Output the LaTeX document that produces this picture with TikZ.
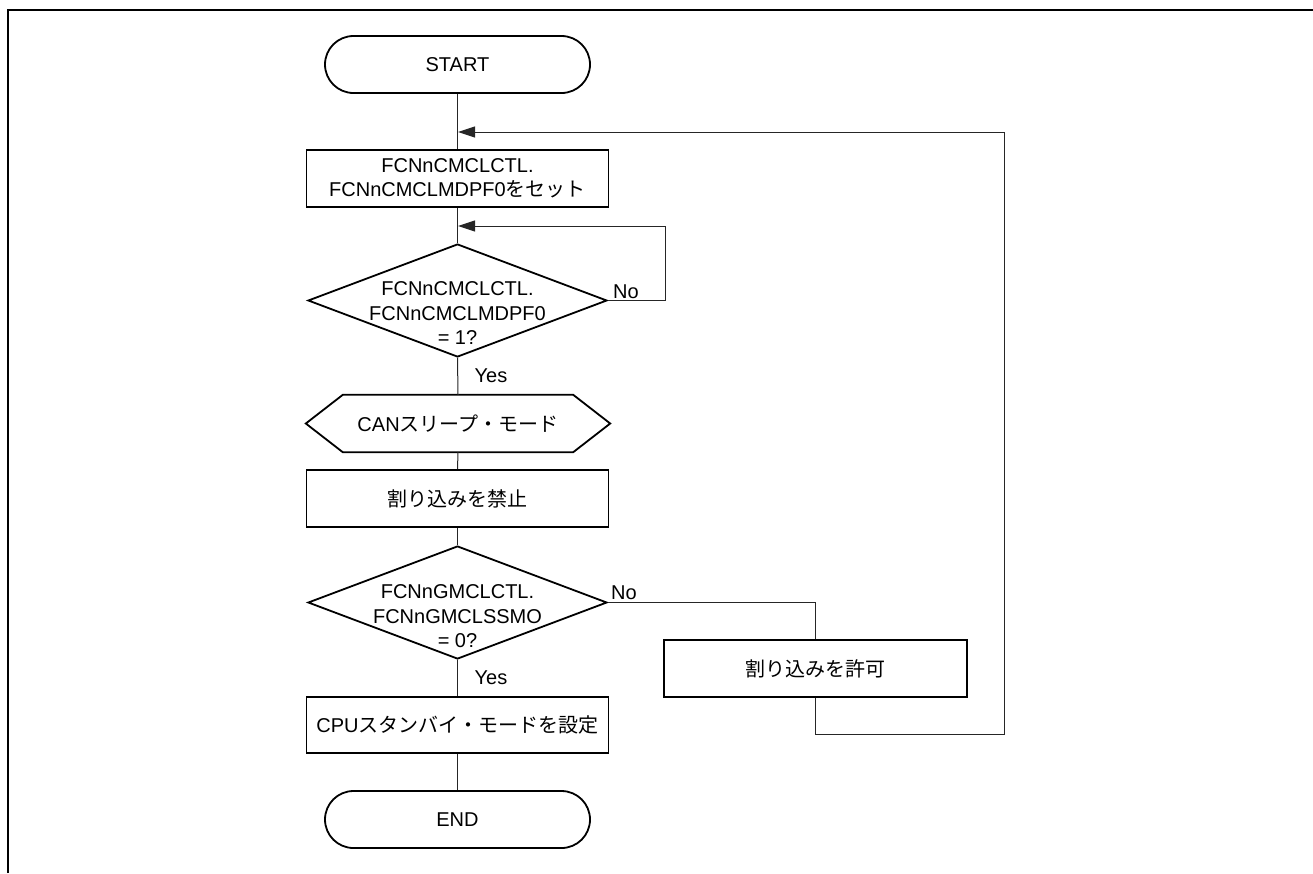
\documentclass[tikz,border=0pt]{standalone}
\usepackage{fontspec}
\setmainfont{Liberation Sans}
\newfontfamily\jp{Noto Sans CJK JP}
\usetikzlibrary{shapes.geometric,arrows.meta,calc}
\begin{document}
\begin{tikzpicture}[x=1pt,y=-1pt,
  every node/.style={font=\fontsize{20}{24.5}\selectfont, inner sep=0pt, align=center},
  term/.style={draw=black, line width=1.8pt, rectangle, rounded corners=28.5pt, minimum width=265pt, minimum height=57pt},
  proc/.style={draw=black, line width=1.8pt, rectangle, minimum width=302pt, minimum height=57pt},
  dec/.style={draw=black, line width=1.8pt, diamond, minimum width=299pt, minimum height=113pt},
  hexa/.style={rectangle, minimum width=304pt, minimum height=57pt},
  shapeline/.style={draw=black, line width=1.8pt},
  flow/.style={draw=black!85, line width=1pt},
  arr/.style={flow, -{Triangle[length=17pt,width=11pt]}},
  lbl/.style={anchor=base west},
  frame/.style={draw=black, line width=2pt}
]
\useasboundingbox (0,0) rectangle (1313,873);
\draw[frame] (7.5,873) -- (7.5,10) -- (1313,10);

% nodes
\node[term] (start) at (457.5,64.5) {START};
\node[proc] (b1) at (457.5,178.5) {FCNnCMCLCTL.\\FCNnCMCLMDPF0{\jp をセット}};
\node[dec] (d1) at (457.5,300.5) {};
\node (d1t) at ([yshift=-13pt]d1.center) {FCNnCMCLCTL.\\FCNnCMCLMDPF0\\= 1?};
\node[hexa] (hx) at (458,423.5) {CAN{\jp スリープ・モード}};
\draw[shapeline] (hx.west) -- ($(hx.north west)+(37,0)$) -- ($(hx.north east)+(-37,0)$) -- (hx.east)
  -- ($(hx.south east)+(-37,0)$) -- ($(hx.south west)+(37,0)$) -- cycle;
\node[proc] (b2) at (457.5,498.5) {\jp 割り込みを禁止};
\node[dec] (d2) at (457.5,602.5) {};
\node (d2t) at ([yshift=-14pt]d2.center) {FCNnGMCLCTL.\\FCNnGMCLSSMO\\= 0?};
\node[proc, minimum width=303pt] (b3) at (815.5,668.5) {\jp 割り込みを許可};
\node[proc, minimum height=56pt] (b4) at (457.5,725) {CPU{\jp スタンバイ・モードを設定}};
\node[term] (end) at (457.5,819.5) {END};

% labels
\node[lbl] (no1) at ([xshift=5pt,yshift=2.5pt]d1.east) {No};
\node[lbl] (yes1) at ([xshift=17pt,yshift=-25pt]d1.south) {Yes};
\node[lbl] (no2) at ([xshift=3pt,yshift=3pt]d2.east) {No};
\node[lbl] (yes2) at ([xshift=17pt,yshift=-25pt]d2.south) {Yes};

% coordinates
\coordinate (j1) at (458,132);
\coordinate (j2) at (458,226);
\coordinate (l1) at (665,226);
\coordinate (r1) at (815.5,734);
\coordinate (r2) at (1004,132);

% connectors
\draw[flow] (start.south) -- (b1.north);
\draw[flow] (b1.south) -- (d1.north);
\draw[flow] (d1.south) -- (hx.north);
\draw[flow] (hx.south) -- (b2.north);
\draw[flow] (b2.south) -- (d2.north);
\draw[flow] (d2.south) -- (b4.north);
\draw[flow] (b4.south) -- (end.north);
\draw[arr] (d1.east) -| (l1) -- (j2);
\draw[flow] (d2.east) -| (b3.north);
\draw[arr] (b3.south) -- (r1) -| (r2) -- (j1);
\end{tikzpicture}
\end{document}
